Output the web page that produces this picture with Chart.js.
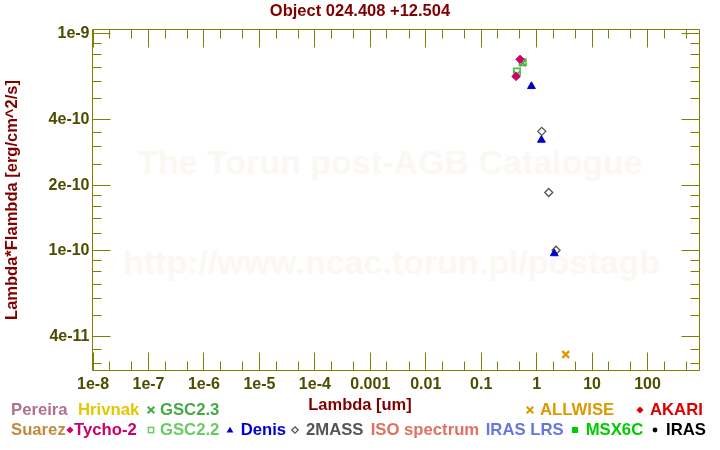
<!DOCTYPE html>
<html><head><meta charset="utf-8">
<script src="https://cdn.jsdelivr.net/npm/chart.js@4/dist/chart.umd.min.js"></script>
<style>
html,body{margin:0;padding:0;background:#fff;}
#wrap{position:relative;width:720px;height:450px;overflow:hidden;font-family:"Liberation Sans",Arial,sans-serif;font-weight:bold;}
#c{position:absolute;left:0;top:0;z-index:2;}
.wm{position:absolute;z-index:1;font-size:34px;color:#fbf8f3;white-space:nowrap;transform:translate(-50%,-50%);}
.lg{position:absolute;z-index:3;font-size:16.7px;line-height:20px;height:20px;white-space:nowrap;}
.sym{position:absolute;z-index:3;overflow:visible;line-height:0;}
.sym svg{display:block;}
.xt{position:absolute;z-index:3;font-size:16.5px;color:#800000;white-space:nowrap;transform:translate(-50%,-50%);}
</style></head>
<body><div id="wrap"><canvas id="c" width="720" height="450"></canvas></div>
<script>
// ---------------- data ----------------
const chartTitle = 'Object 024.408 +12.504';
const xAxisTitle = 'Lambda [um]';
const yAxisTitle = 'Lambda*Flambda [erg/cm^2/s]';
const watermarkLines = ['The Torun post-AGB Catalogue', 'http://www.ncac.torun.pl/postagb'];

const tychoLambda = [0.502, 0.425];
const tychoFlux   = [7.60e-10, 6.34e-10];
const gsc23Lambda = [0.561, 0.441];
const gsc23Flux   = [7.31e-10, 6.49e-10];
const gsc22Lambda = [0.561, 0.441];
const gsc22Flux   = [7.37e-10, 6.67e-10];
const denisLambda = [0.806, 1.22, 2.08];
const denisFlux   = [5.71e-10, 3.23e-10, 9.69e-11];
const twomassLambda = [1.236, 1.654, 2.24];
const twomassFlux   = [3.54e-10, 1.85e-10, 1.003e-10];
const allwiseLambda = [3.35];
const allwiseFlux   = [3.32e-11];

const xRange = [9.77e-9, 866];
const yRange = [2.80e-11, 1.043e-9];
const xMajorTicks = [1e-8,1e-7,1e-6,1e-5,1e-4,1e-3,1e-2,1e-1,1,10,100];
const xTickLabels = ['1e-8','1e-7','1e-6','1e-5','1e-4','0.001','0.01','0.1','1','10','100'];
const xMinorTicks = [2e-8,5e-8,2e-7,5e-7,2e-6,5e-6,2e-5,5e-5,2e-4,5e-4,2e-3,5e-3,2e-2,5e-2,0.2,0.5,2,5,20,50,200,500];
const yMajorTicks = [1e-9,4e-10,2e-10,1e-10,4e-11];
const yTickLabels = ['1e-9','4e-10','2e-10','1e-10','4e-11'];
const yMinorTicks = [9e-10,8e-10,7e-10,6e-10,5e-10,3.5e-10,3e-10,2.5e-10,1.8e-10,1.6e-10,1.4e-10,1.2e-10,9e-11,8e-11,7e-11,6e-11,5e-11,3.5e-11,3e-11];

const legendLabels  = ['Pereira','Hrivnak','GSC2.3','ALLWISE','AKARI','Suarez','Tycho-2','GSC2.2','Denis','2MASS','ISO spectrum','IRAS LRS','MSX6C','IRAS'];
const legendSymbols = ['','','cross','cross','diamond','','diamond','square','triangle','diamondOpen','','','squareFilled','circle'];

// ---------------- styles / layout ----------------
const FONT = '"Liberation Sans", Arial, sans-serif';
const AXIS_COLOR = '#808000';
const TICK_LABEL_COLOR = '#4d4d00';
const TITLE_COLOR = '#800000';
const legendColors = ['#b07090','#e6c600','#44aa44','#dd9900','#dd0000','#c08a40','#cc0066','#66cc66','#0000cc','#555555','#e07060','#6677dd','#00cc00','#000000'];
const legendRowY   = [410,410,410,410,410,430,430,430,430,430,430,430,430,430];
const legendTextX  = [11,78,160,540,650,11,74,160,240.7,306,370.7,485.7,585.7,666];
const legendSymX   = [0,0,150.5,530,640.3,0,70,150.7,230,294.7,0,0,575,655];

// ---------------- legend, watermark, x title (HTML text) ----------------
const wrap = document.getElementById('wrap');
const wmPos = [[390,162],[391.5,262]];
watermarkLines.forEach((t,i) => {
  const d = document.createElement('div'); d.className='wm'; d.textContent=t;
  d.style.left = wmPos[i][0]+'px'; d.style.top = wmPos[i][1]+'px'; wrap.appendChild(d);
});
const xt = document.createElement('div'); xt.className='xt'; xt.textContent = xAxisTitle;
xt.style.left='360px'; xt.style.top='404px'; wrap.appendChild(xt);

function symbolSVG(kind, color) {
  const s = 12, c = 6;
  let inner = '';
  if (kind==='cross') inner = `<path d="M${c-3.3},${c-3.3}L${c+3.3},${c+3.3}M${c+3.3},${c-3.3}L${c-3.3},${c+3.3}" stroke="${color}" stroke-width="2"/>`;
  else if (kind==='diamond') inner = `<path d="M${c},${c-3.6}L${c+3.6},${c}L${c},${c+3.6}L${c-3.6},${c}Z" fill="${color}"/>`;
  else if (kind==='diamondOpen') inner = `<path d="M${c},${c-3.2}L${c+3.2},${c}L${c},${c+3.2}L${c-3.2},${c}Z" fill="none" stroke="${color}" stroke-width="1.3"/>`;
  else if (kind==='square') inner = `<rect x="${c-2.6}" y="${c-2.6}" width="5.2" height="5.2" fill="none" stroke="${color}" stroke-width="1.5"/>`;
  else if (kind==='squareFilled') inner = `<rect x="${c-3}" y="${c-3}" width="6" height="6" fill="${color}"/>`;
  else if (kind==='triangle') inner = `<path d="M${c},${c-3.3}L${c+3.4},${c+2.5}L${c-3.4},${c+2.5}Z" fill="${color}"/>`;
  else if (kind==='circle') inner = `<circle cx="${c}" cy="${c}" r="2.4" fill="${color}"/>`;
  return `<svg width="${s}" height="${s}" viewBox="0 0 ${s} ${s}">${inner}</svg>`;
}
legendLabels.forEach((lab,i) => {
  const d = document.createElement('div'); d.className='lg'; d.textContent=lab;
  d.style.color = legendColors[i]; d.style.left = legendTextX[i]+'px'; d.style.top = (legendRowY[i]-10)+'px';
  wrap.appendChild(d);
  if (legendSymbols[i]) {
    const sdiv = document.createElement('div'); sdiv.className='sym';
    sdiv.innerHTML = symbolSVG(legendSymbols[i], legendColors[i]);
    sdiv.style.left = (legendSymX[i]-6)+'px'; sdiv.style.top = (legendRowY[i]-6)+'px';
    sdiv.style.width='12px'; sdiv.style.height='12px';
    wrap.appendChild(sdiv);
  }
});

// ---------------- chart ----------------
const pts = (xs, ys) => xs.map((x,i) => ({x, y: ys[i]}));
const datasets = [
  {label:'Tycho-2', data: pts(tychoLambda,tychoFlux), pointStyle:'rectRot', pointRadius:4.2, backgroundColor:'#cc0066', borderColor:'#cc0066', borderWidth:1},
  {label:'GSC2.3', data: pts(gsc23Lambda,gsc23Flux), pointStyle:'crossRot', pointRadius:4.4, backgroundColor:'rgba(0,0,0,0)', borderColor:'#44aa44', borderWidth:1.6},
  {label:'GSC2.2', data: pts(gsc22Lambda,gsc22Flux), pointStyle:'rect', pointRadius:4.6, backgroundColor:'rgba(0,0,0,0)', borderColor:'#55bb55', borderWidth:1.6},
  {label:'Denis', data: pts(denisLambda,denisFlux), pointStyle:'triangle', pointRadius:4.5, backgroundColor:'#0000cc', borderColor:'#0000cc', borderWidth:1},
  {label:'2MASS', data: pts(twomassLambda,twomassFlux), pointStyle:'rectRot', pointRadius:4, backgroundColor:'rgba(0,0,0,0)', borderColor:'#555555', borderWidth:1.3},
  {label:'ALLWISE', data: pts(allwiseLambda,allwiseFlux), pointStyle:'crossRot', pointRadius:4.8, backgroundColor:'rgba(0,0,0,0)', borderColor:'#dd9900', borderWidth:2.4},
];

const framePlugin = {
  id: 'frame',
  beforeDatasetsDraw(chart) {
    const {ctx, chartArea: a, scales: {x, y}} = chart;
    ctx.save();
    ctx.strokeStyle = AXIS_COLOR; ctx.lineWidth = 1;
    ctx.beginPath();
    ctx.rect(a.left, a.top, a.right - a.left, a.bottom - a.top);
    const snap = p => Math.floor(p) + 0.5;
    const xt = (v, len) => { const p = snap(x.getPixelForValue(v));
      ctx.moveTo(p, a.top); ctx.lineTo(p, a.top + len);
      ctx.moveTo(p, a.bottom); ctx.lineTo(p, a.bottom - len); };
    const yt = (v, len) => { const p = snap(y.getPixelForValue(v));
      ctx.moveTo(a.left, p); ctx.lineTo(a.left + len, p);
      ctx.moveTo(a.right, p); ctx.lineTo(a.right - len, p); };
    xMajorTicks.forEach(v => xt(v, 18));
    xMinorTicks.forEach(v => xt(v, 9));
    yMajorTicks.forEach(v => yt(v, 18));
    yMinorTicks.forEach(v => yt(v, 9));
    ctx.stroke();
    ctx.restore();
  }
};

const tickFont = {family: FONT, size: 16, weight: 'bold'};
new Chart(document.getElementById('c'), {
  type: 'scatter',
  data: {datasets},
  options: {
    responsive: false, animation: false, devicePixelRatio: 1,
    layout: {padding: 0},
    plugins: {
      legend: {display: false}, tooltip: {enabled: false},
      title: {display: true, text: chartTitle, color: TITLE_COLOR,
        font: {family: FONT, size: 16.5, weight: 'bold', lineHeight: 1.2}, padding: {top: 2, bottom: 7.7}}
    },
    scales: {
      x: {type: 'logarithmic', position: 'bottom', min: xRange[0], max: xRange[1],
        grid: {display: false, drawTicks: false}, border: {display: false},
        ticks: {autoSkip: false, maxRotation: 0, minRotation: 0, padding: 4, color: TICK_LABEL_COLOR, font: tickFont,
          callback: (v, i) => xTickLabels[i]},
        afterBuildTicks: s => { s.ticks = xMajorTicks.map(v => ({value: v})); },
        afterFit: s => { s.height = 79.5; }
      },
      y: {type: 'logarithmic', position: 'left', min: yRange[0], max: yRange[1],
        grid: {display: false, drawTicks: false}, border: {display: false},
        ticks: {autoSkip: false, padding: 3, color: TICK_LABEL_COLOR, font: tickFont,
          callback: (v, i) => yTickLabels[i]},
        afterBuildTicks: s => { s.ticks = yMajorTicks.map(v => ({value: v})); },
        title: {display: true, text: yAxisTitle, color: TITLE_COLOR,
          font: {family: FONT, size: 16.5, weight: 'bold', lineHeight: 1.2}, padding: {top: 3, bottom: 0}},
        afterFit: s => { s.width = 92.5; }
      },
      yR: {type: 'linear', position: 'right', display: true,
        grid: {display: false, drawTicks: false}, border: {display: false},
        ticks: {display: false},
        afterFit: s => { s.width = 20.5; }
      }
    }
  },
  plugins: [framePlugin]
});
</script>
</body></html>
